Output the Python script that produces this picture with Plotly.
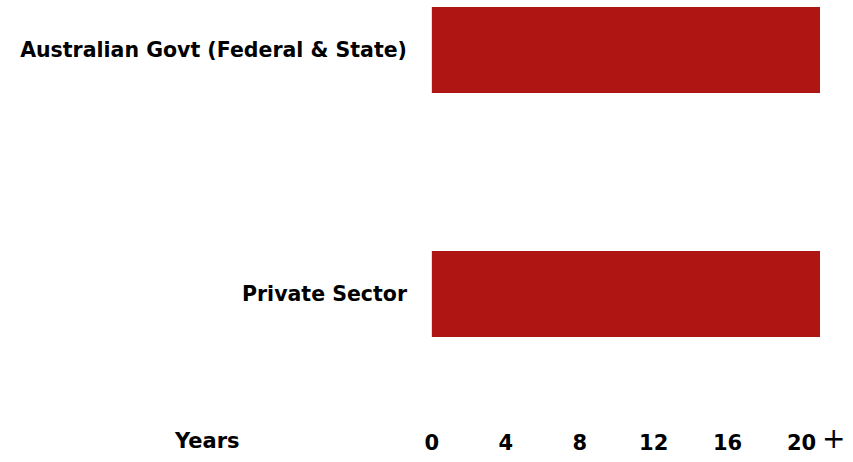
import plotly.graph_objects as go

categories = ["Australian Govt (Federal & State)", "Private Sector"]
years = [21, 21]
tick_vals = [0, 4, 8, 12, 16, 20]
tick_text = ["0", "4", "8", "12", "16", "20"]
axis_label = "Years"
bar_color = "#AF1513"
font_family = "DejaVu Sans, Liberation Sans, Arial, sans-serif"

fig = go.Figure(
    go.Bar(
        x=years,
        y=categories,
        orientation="h",
        marker=dict(color=bar_color, line=dict(width=0)),
        width=0.352,
        hoverinfo="skip",
    )
)

fig.update_layout(
    width=853,
    height=462,
    margin=dict(l=430, r=33, t=0, b=42),
    paper_bgcolor="white",
    plot_bgcolor="white",
    showlegend=False,
    font=dict(family=font_family, size=18, color="#000000"),
)

fig.update_xaxes(
    range=[-0.1, 21],
    tickvals=tick_vals,
    ticktext=tick_text,
    showgrid=False,
    zeroline=False,
    showline=False,
    ticks="",
    ticklabelstandoff=8,
    tickfont=dict(family=font_family, size=21, color="#000000", weight="bold"),
)

fig.update_yaxes(
    type="category",
    categoryorder="array",
    categoryarray=categories,
    range=[1.516, -0.205],
    showgrid=False,
    zeroline=False,
    showline=False,
    ticks="",
    ticklabelstandoff=22,
    tickfont=dict(family=font_family, size=20.5, color="#000000", weight="bold"),
)

fig.add_annotation(
    xref="paper", yref="paper", x=-0.572, y=0, yshift=-21,
    text=axis_label, showarrow=False, xanchor="center", yanchor="middle",
    font=dict(family=font_family, size=21, color="#000000", weight="bold"),
)
fig.add_annotation(
    xref="x", yref="paper", x=20, y=0, xshift=32, yshift=-18,
    text="+", showarrow=False, xanchor="center", yanchor="middle",
    font=dict(family=font_family, size=28, color="#000000"),
)

fig.write_html("out.html")
